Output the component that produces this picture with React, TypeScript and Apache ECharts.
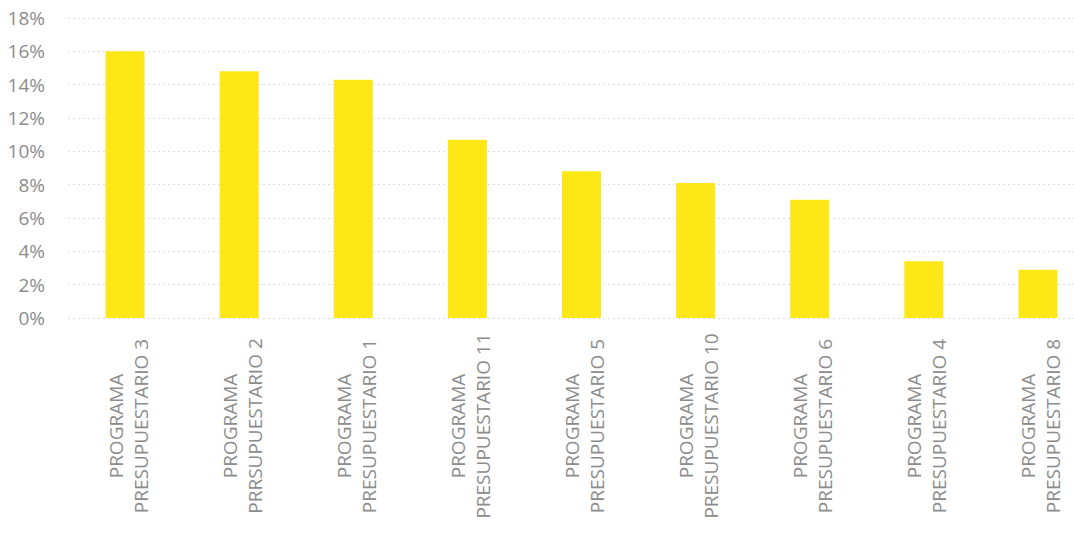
import React, { useEffect, useRef } from "react";
import * as echarts from "echarts";

const categories = [
  "PROGRAMA\nPRESUPUESTARIO 3",
  "PROGRAMA\nPRRSUPUESTARIO 2",
  "PROGRAMA\nPRESUPUESTARIO 1",
  "PROGRAMA\nPRESUPUESTARIO 11",
  "PROGRAMA\nPRESUPUESTARIO 5",
  "PROGRAMA\nPRESUPUESTARIO 10",
  "PROGRAMA\nPRESUPUESTARIO 6",
  "PROGRAMA\nPRESUPUESTARIO 4",
  "PROGRAMA\nPRESUPUESTARIO 8",
];

const values = [16.0, 14.8, 14.3, 10.7, 8.8, 8.1, 7.1, 3.4, 2.9];

const yMin = 0;
const yMax = 18;
const yInterval = 2;

export default function App() {
  const ref = useRef<HTMLDivElement>(null);

  useEffect(() => {
    if (!ref.current) return;
    const chart = echarts.init(ref.current, undefined, { renderer: "svg" });
    const gray = "#8c8c8c";
    const font = "'Open Sans', sans-serif";
    chart.setOption({
      animation: false,
      backgroundColor: "#ffffff",
      grid: {
        left: 68,
        width: 1027,
        top: 18,
        height: 300,
        containLabel: false,
        outerBoundsMode: "none",
      },
      xAxis: {
        type: "category",
        data: categories,
        axisLine: { show: false },
        axisTick: { show: false },
        axisLabel: {
          interval: 0,
          rotate: 90,
          margin: 17,
          padding: [6, 0, 0, 0],
          formatter: (v: string) =>
            v
              .split("\n")
              .map((s) => `{a|${s}}`)
              .join("\n"),
          rich: {
            a: {
              width: 182,
              align: "center",
              fontSize: 19,
              lineHeight: 25,
              color: gray,
              fontFamily: font,
            },
          },
        },
      },
      yAxis: {
        type: "value",
        min: yMin,
        max: yMax,
        interval: yInterval,
        axisLine: { show: false },
        axisTick: { show: false },
        axisLabel: {
          formatter: (v: number) => `${v}%`,
          color: gray,
          fontSize: 19,
          fontFamily: font,
          margin: 23,
        },
        splitLine: {
          show: true,
          lineStyle: { color: "#dddddd", type: [2, 3], width: 1 },
        },
      },
      series: [
        {
          type: "bar",
          data: values,
          barWidth: 39,
          itemStyle: { color: "#FDE716" },
        },
      ],
    });
    return () => chart.dispose();
  }, []);

  return (
    <div
      ref={ref}
      style={{ position: "fixed", left: 0, top: 0, width: 1074, height: 533, background: "#fff" }}
    />
  );
}
